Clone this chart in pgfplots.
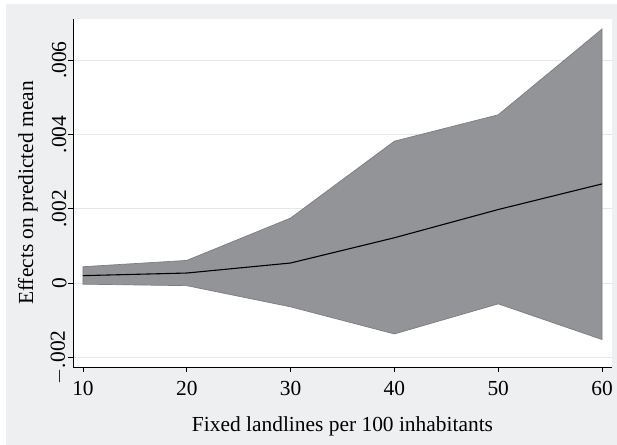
\documentclass[border=0pt]{standalone}
\usepackage{pgfplots}
\pgfplotsset{compat=1.18}
\usepackage{fontspec}
\setmainfont{Liberation Serif}
\definecolor{outerbg}{HTML}{EEEFF1}
\definecolor{bandfill}{HTML}{939498}
\definecolor{bandedge}{HTML}{7C7D80}
\definecolor{gridc}{HTML}{E4E6E8}
\begin{document}
\begin{tikzpicture}
\fill[white] (0bp,0bp) rectangle (617bp,445bp);
\fill[outerbg] (6bp,0bp) rectangle (617bp,441bp);
\begin{axis}[
  at={(73bp,78bp)}, anchor=south west,
  scale only axis,
  width=539bp, height=348bp,
  xmin=9.04, xmax=60.96,
  ymin=-0.00226, ymax=0.00711,
  axis x line*=bottom, axis y line*=left,
  axis line style={black, line width=0.9bp, -},
  axis background/.style={fill=white},
  xtick={10,20,30,40,50,60},
  ytick={-0.002,0,0.002,0.004,0.006},
  yticklabels={$-$.002,0,.002,.004,.006},
  scaled y ticks=false,
  tick align=outside,
  major tick length=5bp,
  tick style={black, line width=0.8bp},
  ymajorgrids,
  grid style={gridc, line width=1bp},
  ticklabel style={font=\fontsize{21.5}{24}\selectfont},
  /pgf/number format/assume math mode=true,
  yticklabel style={rotate=90, anchor=south},
  yticklabel shift=-2bp,
  xticklabel shift=6bp,
  xlabel={Fixed landlines per 100 inhabitants},
  ylabel={Effects on predicted mean},
  label style={font=\fontsize{21.5}{24}\selectfont},
  xlabel style={yshift=-14bp},
  ylabel style={yshift=6bp},
]
\addplot[fill=bandfill, draw=bandedge, line width=0.7bp] coordinates {
  (10,0.00044) (20,0.00061) (30,0.00175) (40,0.00382) (50,0.00453) (60,0.00684)
  (60,-0.00152) (50,-0.00056) (40,-0.00137) (30,-0.00064) (20,-0.00007) (10,-0.00003)} -- cycle;
\addplot[black, line width=1.1bp] coordinates {
  (10,0.00020) (20,0.00027) (30,0.00054) (40,0.00122) (50,0.00198) (60,0.00267)};
\end{axis}
\end{tikzpicture}
\end{document}
